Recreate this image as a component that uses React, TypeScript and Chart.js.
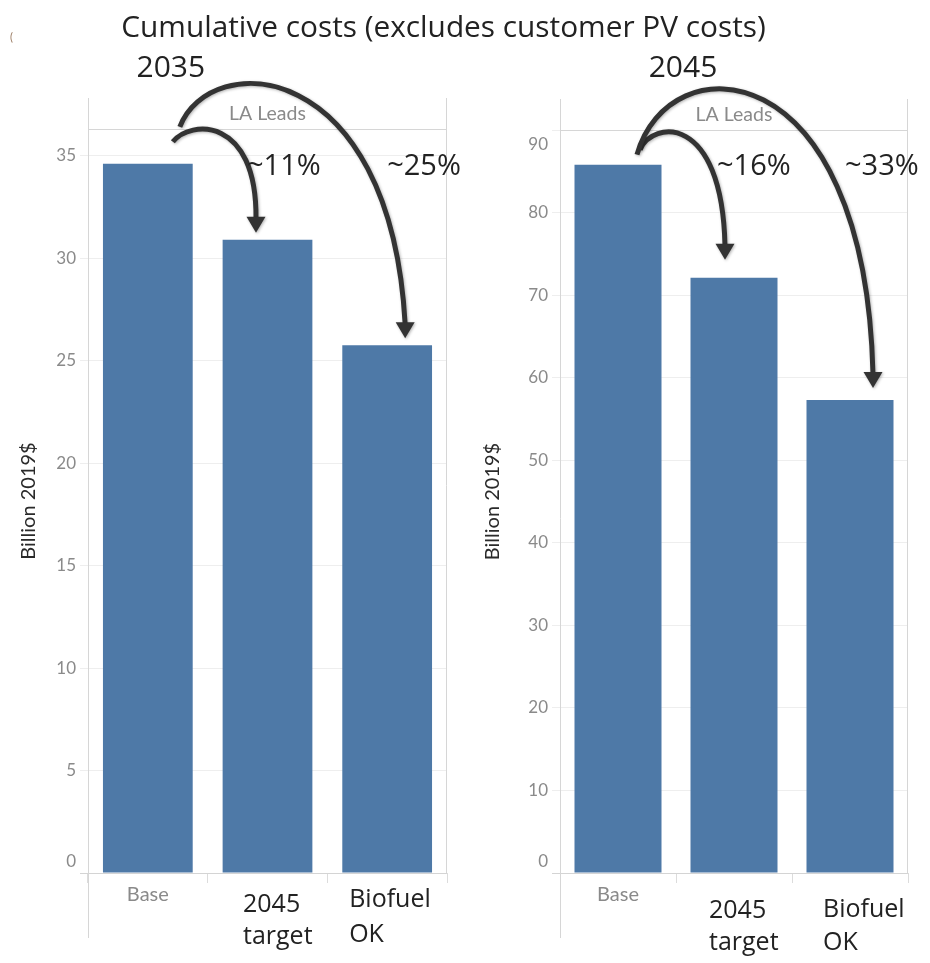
import React, { useEffect, useRef } from "react";
import { Chart, registerables } from "chart.js";
Chart.register(...registerables);

// ---------- data ----------
const categories = ["Base", "2045 target", "Biofuel OK"];
const categoryLines = [["Base"], ["2045", "target"], ["Biofuel", "OK"]];
const values2035 = [34.6, 30.9, 25.75];
const values2045 = [85.8, 72.1, 57.3];
const yMax2035 = 36.3;
const yStep2035 = 5;
const yMax2045 = 90;
const yStep2045 = 10;
const pct2035 = ["~11%", "~25%"];
const pct2045 = ["~16%", "~33%"];
const yearLabels = ["2035", "2045"];
const paneHeader = "LA Leads";
const yAxisTitle = "Billion 2019$";
const titleText = "Cumulative costs (excludes customer PV costs)";

const BAR = "#4e79a7";
const GRAY_TXT = "#8a8a8a";
const DARK = "#222222";
const BIG_FONT = '"Open Sans", "Noto Sans", sans-serif';
const TAB_FONT = 'Lato, "Noto Sans", sans-serif';

type Arrow = { from: number; to: number; p0: number[]; c1: number[]; c2: number[]; p3: number[]; tip: number[] };
type Pane = {
  values: number[];
  yMax: number;
  step: number;
  pct: string[];
  pctDx: number[][];
  year: string;
  yearDx: number;
  padLeft: number;
  padRight: number;
  padTop: number;
  yWidth: number;
  yTitleDx: number;
  labelDx: number[];
  labelBase: number[][];
  arrows: Arrow[];
  drawTitle: boolean;
};

const panes: Pane[] = [
  {
    values: values2035,
    yMax: yMax2035,
    step: yStep2035,
    pct: pct2035,
    pctDx: [[-20.5, 11], [0, 11]],
    year: yearLabels[0],
    yearDx: 23,
    padLeft: 0,
    padRight: 483,
    padTop: 129,
    yWidth: 88,
    yTitleDx: 59,
    labelDx: [0, -24.5, -38],
    labelBase: [[22], [39, 71], [34, 69]],
    arrows: [
      { from: 0, to: 1, p0: [25, -22], c1: [42, -44], c2: [-10.5, -124], p3: [-11.5, -23], tip: [-11.5, -7] },
      { from: 0, to: 2, p0: [32, -37], c1: [62, -115], c2: [3, -290], p3: [18, -23], tip: [18, -7] },
    ],
    drawTitle: true,
  },
  {
    values: values2045,
    yMax: yMax2045,
    step: yStep2045,
    pct: pct2045,
    pctDx: [[-17, 10], [-5, 10]],
    year: yearLabels[1],
    yearDx: 65,
    padLeft: 465,
    padRight: 22,
    padTop: 130,
    yWidth: 95,
    yTitleDx: 67,
    labelDx: [0, -25, -27],
    labelBase: [[22], [45, 77], [44, 77]],
    arrows: [
      { from: 0, to: 1, p0: [22, -15], c1: [34, -44], c2: [-12, -166], p3: [-9, -34], tip: [-9, -18] },
      { from: 0, to: 2, p0: [19, -10], c1: [50, -122], c2: [15, -352], p3: [23, -28], tip: [23, -12] },
    ],
    drawTitle: false,
  },
];

function overlayPlugin(pane: Pane) {
  return {
    id: "overlay",
    afterDraw(chart: any) {
      const ctx: CanvasRenderingContext2D = chart.ctx;
      const a = chart.chartArea;
      const y = chart.scales.y;
      const x = chart.scales.x;
      const bars = chart.getDatasetMeta(0).data;
      ctx.save();

      // frame lines
      const headTop = a.top - 31;
      ctx.strokeStyle = "#d6d6d6";
      ctx.lineWidth = 1;
      ctx.beginPath();
      ctx.moveTo(a.left, a.top + 0.5);
      ctx.lineTo(a.right, a.top + 0.5);
      ctx.moveTo(a.left + 0.5, headTop);
      ctx.lineTo(a.left + 0.5, a.bottom + 65);
      ctx.moveTo(a.right - 0.5, headTop);
      ctx.lineTo(a.right - 0.5, a.bottom);
      ctx.stroke();

      // header text
      ctx.fillStyle = GRAY_TXT;
      ctx.font = `19.5px ${TAB_FONT}`;
      ctx.textAlign = "center";
      ctx.textBaseline = "middle";
      ctx.fillText(paneHeader, (a.left + a.right) / 2, a.top - 15);

      // y tick labels (kept inside plot like Tableau)
      ctx.font = `17px ${TAB_FONT}`;
      ctx.textAlign = "right";
      ctx.fillStyle = GRAY_TXT;
      y.ticks.forEach((t: any) => {
        const py = y.getPixelForValue(t.value);
        const cy = Math.min(Math.max(py, a.top + 15), a.bottom - 11);
        ctx.fillText(String(t.value), a.left - 12, cy);
      });

      // y title
      ctx.save();
      ctx.translate(a.left - pane.yTitleDx, (a.top + a.bottom) / 2);
      ctx.rotate(-Math.PI / 2);
      ctx.textAlign = "center";
      ctx.textBaseline = "middle";
      ctx.fillStyle = "#2a2a2a";
      ctx.font = `20px ${TAB_FONT}`;
      ctx.fillText(yAxisTitle, 0, 0);
      ctx.restore();

      // x labels
      categoryLines.forEach((lines, i) => {
        const cx = x.getPixelForValue(i);
        if (i === 0) {
          ctx.font = `20px ${TAB_FONT}`;
          ctx.fillStyle = GRAY_TXT;
          ctx.textAlign = "center";
          ctx.textBaseline = "middle";
          ctx.fillText(lines[0], cx, a.bottom + pane.labelBase[0][0]);
        } else {
          ctx.font = `25px ${BIG_FONT}`;
          ctx.fillStyle = DARK;
          ctx.textAlign = "left";
          ctx.textBaseline = "alphabetic";
          lines.forEach((ln, j) => {
            ctx.fillText(ln, cx + pane.labelDx[i], a.bottom + pane.labelBase[i][j]);
          });
        }
      });

      // year label
      ctx.font = `30px ${BIG_FONT}`;
      ctx.fillStyle = DARK;
      ctx.textAlign = "center";
      ctx.textBaseline = "alphabetic";
      ctx.fillText(pane.year, bars[0].x + pane.yearDx, 77);

      // main title
      if (pane.drawTitle) {
        ctx.font = `29.8px ${BIG_FONT}`;
        ctx.fillText(titleText, 443.5, 37);
        ctx.font = `11px ${TAB_FONT}`;
        ctx.fillStyle = "#9a7a60";
        ctx.textAlign = "left";
        ctx.fillText("(", 10, 41);
      }

      // arrows
      ctx.strokeStyle = "#333";
      ctx.fillStyle = "#333";
      ctx.lineWidth = 5;
      ctx.shadowColor = "rgba(0,0,0,0.3)";
      ctx.shadowBlur = 3;
      ctx.shadowOffsetX = 1;
      ctx.shadowOffsetY = 1;
      pane.arrows.forEach((ar) => {
        const b = bars[ar.from];
        const t = bars[ar.to];
        const p0 = [b.x + ar.p0[0], b.y + ar.p0[1]];
        const c1 = [b.x + ar.c1[0], b.y + ar.c1[1]];
        const c2 = [t.x + ar.c2[0], t.y + ar.c2[1]];
        const p3 = [t.x + ar.p3[0], t.y + ar.p3[1]];
        const tip = [t.x + ar.tip[0], t.y + ar.tip[1]];
        ctx.beginPath();
        ctx.moveTo(p0[0], p0[1]);
        ctx.bezierCurveTo(c1[0], c1[1], c2[0], c2[1], p3[0], p3[1] + 2);
        ctx.stroke();
        const dx = tip[0] - p3[0];
        const dy = tip[1] - p3[1];
        const len = Math.hypot(dx, dy) || 1;
        const nx = -dy / len;
        const ny = dx / len;
        const hw = 9.5;
        ctx.beginPath();
        ctx.moveTo(tip[0], tip[1]);
        ctx.lineTo(p3[0] + nx * hw, p3[1] + ny * hw);
        ctx.lineTo(p3[0] - nx * hw, p3[1] - ny * hw);
        ctx.closePath();
        ctx.fill();
      });
      ctx.shadowColor = "transparent";

      // percentage labels
      ctx.font = `29px ${BIG_FONT}`;
      ctx.fillStyle = DARK;
      ctx.textAlign = "left";
      ctx.textBaseline = "alphabetic";
      pane.pct.forEach((p, k) => {
        const t = bars[pane.arrows[k].to];
        ctx.fillText(p, t.x + pane.pctDx[k][0], bars[0].y + pane.pctDx[k][1]);
      });

      ctx.restore();
    },
  };
}

function PaneChart({ pane }: { pane: Pane }) {
  const ref = useRef<HTMLCanvasElement | null>(null);
  useEffect(() => {
    if (!ref.current) return;
    const chart = new Chart(ref.current, {
      type: "bar",
      data: {
        labels: categories,
        datasets: [
          {
            data: pane.values,
            backgroundColor: BAR,
            borderWidth: 0,
            barPercentage: 0.75,
            categoryPercentage: 1,
          },
        ],
      },
      options: {
        responsive: false,
        animation: false,
        devicePixelRatio: 1,
        layout: { padding: { left: pane.padLeft, right: pane.padRight, top: pane.padTop, bottom: 0 } },
        plugins: { legend: { display: false }, tooltip: { enabled: false }, title: { display: false } },
        scales: {
          x: {
            offset: true,
            grid: { offset: true, drawOnChartArea: false, drawTicks: true, tickLength: 10, color: "#dcdcdc" },
            border: { display: false },
            ticks: { display: false },
            afterFit: (s: any) => {
              s.height = 90;
            },
          },
          y: {
            min: 0,
            max: pane.yMax,
            border: { display: false },
            grid: {
              color: (c: any) => (c.tick && c.tick.value === 0 ? "#d4d4d4" : "#eeeeee"),
              tickLength: 8,
              drawTicks: true,
            },
            ticks: { display: false, stepSize: pane.step, includeBounds: false },
            afterFit: (s: any) => {
              s.width = pane.yWidth;
            },
          },
        },
      },
      plugins: [overlayPlugin(pane)],
    });
    return () => chart.destroy();
  }, [pane]);
  return (
    <canvas
      ref={ref}
      width={930}
      height={963}
      style={{ position: "absolute", left: 0, top: 0, width: 930, height: 963 }}
    />
  );
}

export default function App() {
  return (
    <div style={{ position: "absolute", left: 0, top: 0, width: 930, height: 963, background: "#fff" }}>
      {panes.map((p, i) => (
        <PaneChart key={i} pane={p} />
      ))}
    </div>
  );
}
